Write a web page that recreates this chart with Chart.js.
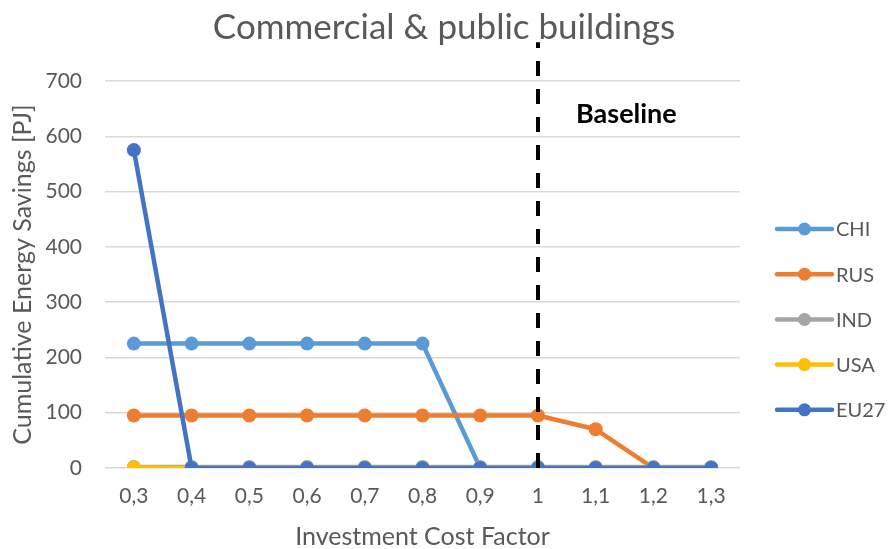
<!DOCTYPE html>
<html>
<head>
<meta charset="utf-8">
<script src="https://cdn.jsdelivr.net/npm/chart.js@4.4.1/dist/chart.umd.min.js"></script>
<style>
  html, body { margin: 0; padding: 0; background: #ffffff; }
  #wrap { width: 888px; height: 549px; }
</style>
</head>
<body>
<div id="wrap"><canvas id="c" width="888" height="549"></canvas></div>
<script>
// Investment cost factors (x categories)
const costFactors = ['0,3', '0,4', '0,5', '0,6', '0,7', '0,8', '0,9', '1', '1,1', '1,2', '1,3'];

// Cumulative energy savings [PJ] per region
const chi  = [225, 225, 225, 225, 225, 225, 0, 0, 0, 0, 0];
const rus  = [95, 95, 95, 95, 95, 95, 95, 95, 70, 0, 0];
const ind  = [2, 2, 2, 2, 2, 2, 2, 2, 2, 2, 2];
const usa  = [1, 0, 0, 0, 0, 0, 0, 0, 0, 0, 0];
const eu27 = [575, 0, 0, 0, 0, 0, 0, 0, 0, 0, 0];

// Y axis ticks
const yTicks = [0, 100, 200, 300, 400, 500, 600, 700];

// Chart title and reference marker
const chartTitle = 'Commercial & public buildings';
const baselineIndex = 7;
const baselineLabel = 'Baseline';

const FONT = 'Lato, "Open Sans", sans-serif';
const GREY_TEXT = '#595959';

function series(label, data, color, order) {
  return {
    label, data, order,
    borderColor: color,
    backgroundColor: color,
    borderWidth: 4.5,
    pointRadius: 7,
    pointHoverRadius: 7,
    pointBorderWidth: 0,
    pointBackgroundColor: color,
    tension: 0,
    borderCapStyle: 'round',
    borderJoinStyle: 'round'
  };
}

// Title centred across the whole canvas
const titlePlugin = {
  id: 'centredTitle',
  afterDraw(chart) {
    const { ctx, width } = chart;
    ctx.save();
    ctx.fillStyle = GREY_TEXT;
    ctx.font = '35px ' + FONT;
    ctx.textAlign = 'center';
    ctx.textBaseline = 'middle';
    ctx.fillText(chartTitle, width / 2, 28);
    ctx.restore();
  }
};

// Dashed vertical marker with its caption
const baselinePlugin = {
  id: 'baselineMarker',
  afterDatasetsDraw(chart) {
    const { ctx, scales: { x, y } } = chart;
    const px = Math.round(x.getPixelForValue(baselineIndex));
    const yBottom = y.getPixelForValue(0);
    const yTop = y.getPixelForValue(770);
    ctx.save();
    ctx.strokeStyle = '#000000';
    ctx.lineWidth = 4;
    ctx.setLineDash([15, 13]);
    ctx.beginPath();
    ctx.moveTo(px, yBottom);
    ctx.lineTo(px, yTop);
    ctx.stroke();
    ctx.setLineDash([]);
    ctx.fillStyle = '#000000';
    ctx.font = 'bold 27px ' + FONT;
    ctx.textAlign = 'left';
    ctx.textBaseline = 'middle';
    ctx.fillText(baselineLabel, px + 38, y.getPixelForValue(640));
    ctx.restore();
  }
};

// Legend on the right: line sample with a marker, then the series name
const sideLegendPlugin = {
  id: 'sideLegend',
  afterDraw(chart) {
    const { ctx } = chart;
    const sets = chart.data.datasets;
    const x0 = 777, x1 = 832, top = 229, step = 45.2;
    ctx.save();
    sets.forEach((ds, i) => {
      const cy = top + i * step;
      ctx.strokeStyle = ds.borderColor;
      ctx.lineWidth = 4.5;
      ctx.lineCap = 'round';
      ctx.beginPath();
      ctx.moveTo(x0, cy);
      ctx.lineTo(x1, cy);
      ctx.stroke();
      ctx.fillStyle = ds.borderColor;
      ctx.beginPath();
      ctx.arc((x0 + x1) / 2, cy, 6.5, 0, Math.PI * 2);
      ctx.fill();
      ctx.fillStyle = GREY_TEXT;
      ctx.font = '20px ' + FONT;
      ctx.textAlign = 'left';
      ctx.textBaseline = 'middle';
      ctx.fillText(ds.label, x1 + 4, cy + 1);
    });
    ctx.restore();
  }
};

new Chart(document.getElementById('c'), {
  type: 'line',
  data: {
    labels: costFactors,
    datasets: [
      series('CHI', chi, '#5B9BD5', 5),
      series('RUS', rus, '#ED7D31', 4),
      series('IND', ind, '#A5A5A5', 3),
      series('USA', usa, '#FFC000', 2),
      series('EU27', eu27, '#4472C4', 1)
    ]
  },
  options: {
    responsive: false,
    animation: false,
    devicePixelRatio: 1,
    layout: { padding: { left: 0, right: 148, top: 81, bottom: 0 } },
    plugins: {
      legend: { display: false },
      tooltip: { enabled: false },
      title: { display: false }
    },
    scales: {
      x: {
        offset: true,
        afterFit(scale) { scale.height = 81; },
        grid: { display: false, drawTicks: false },
        border: { display: false },
        ticks: { color: GREY_TEXT, font: { family: FONT, size: 21 }, padding: 16, maxRotation: 0 },
        title: {
          display: true,
          text: 'Investment Cost Factor',
          color: GREY_TEXT,
          font: { family: FONT, size: 25 },
          padding: { top: 0, bottom: -3 }
        }
      },
      y: {
        min: 0,
        max: 700,
        afterFit(scale) { scale.width = 105; },
        afterBuildTicks(axis) { axis.ticks = yTicks.map(v => ({ value: v })); },
        grid: { color: '#D9D9D9', lineWidth: 1.5, drawTicks: false },
        border: { display: false },
        ticks: { color: GREY_TEXT, font: { family: FONT, size: 21 }, padding: 23 },
        title: {
          display: true,
          text: 'Cumulative Energy Savings [PJ]',
          color: GREY_TEXT,
          font: { family: FONT, size: 25 },
          padding: { top: 8, bottom: 0 }
        }
      }
    }
  },
  plugins: [baselinePlugin, sideLegendPlugin, titlePlugin]
});
</script>
</body>
</html>
